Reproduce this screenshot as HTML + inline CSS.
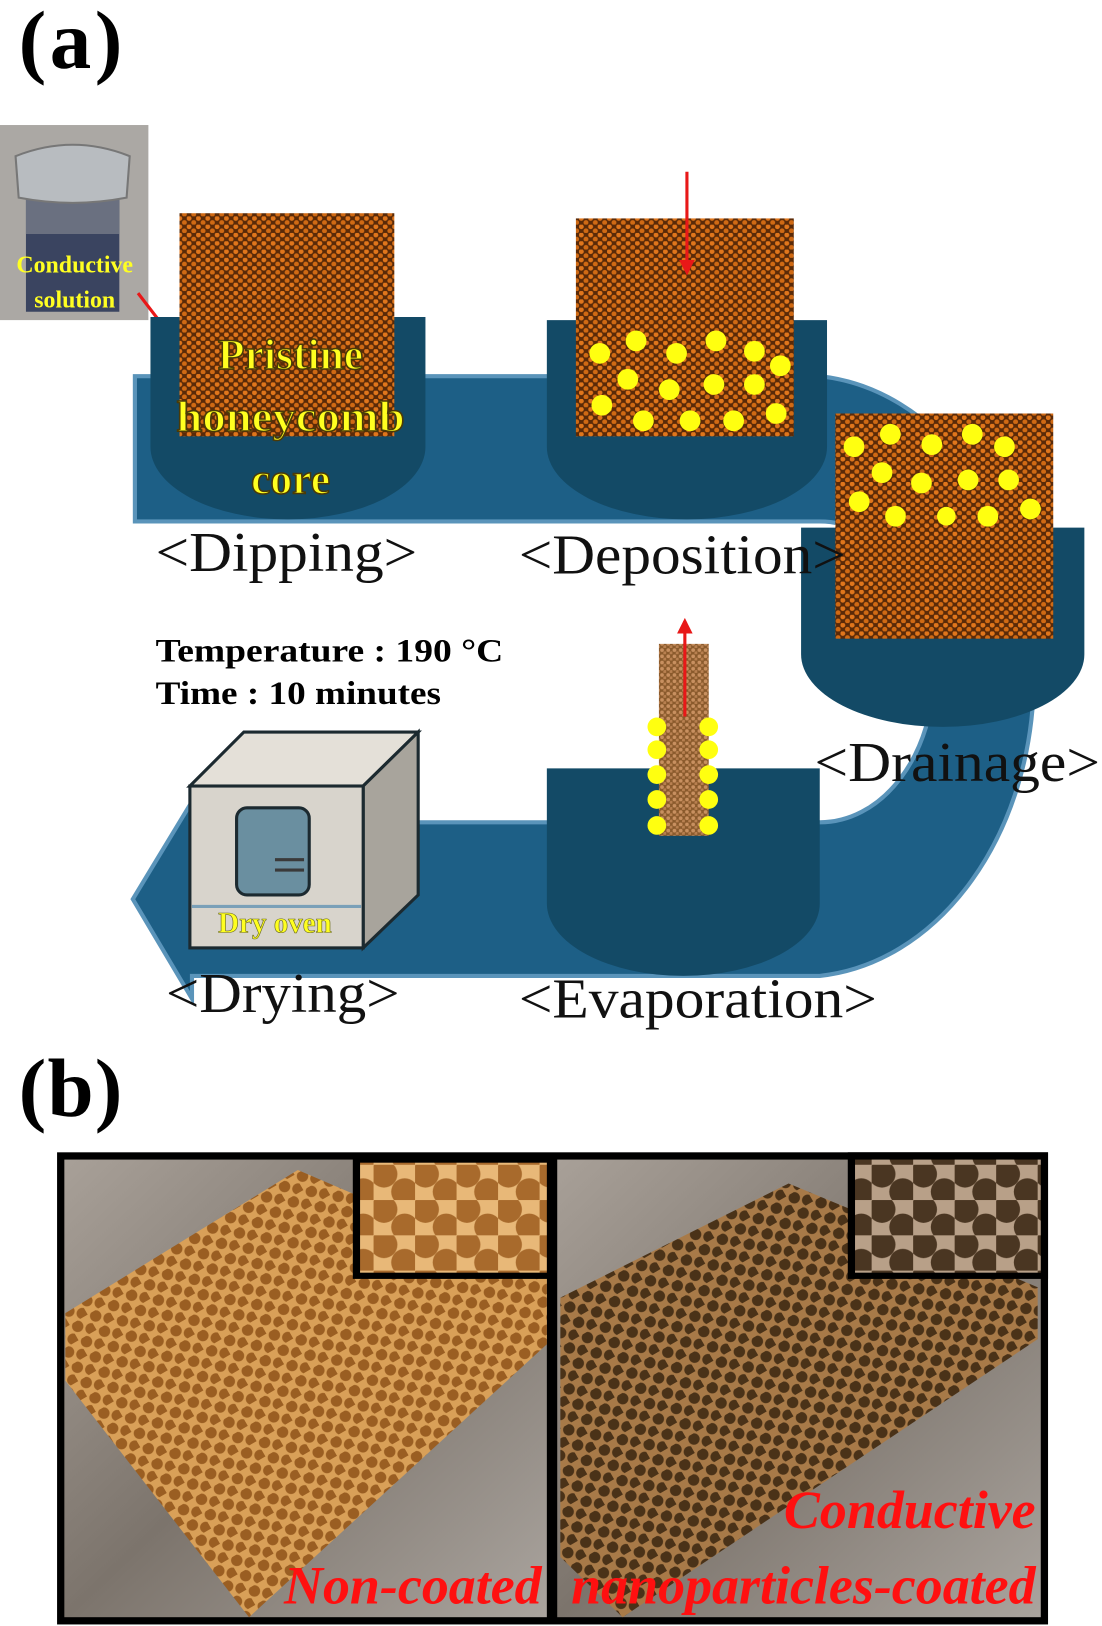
<!DOCTYPE html>
<html><head><meta charset="utf-8"><style>html,body{margin:0;padding:0;background:#fff}svg{display:block}</style></head>
<body>
<svg width="1102" height="1626" viewBox="0 0 1062 1566" xmlns="http://www.w3.org/2000/svg" font-family="Liberation Serif, serif">
<defs>
<pattern id="hc" width="9" height="8" patternUnits="userSpaceOnUse">
<rect width="9" height="8" fill="#5a2a08"/>
<circle cx="2.2" cy="2" r="2.4" fill="#e0761c"/><circle cx="6.7" cy="6" r="2.4" fill="#d06a14"/>
</pattern>
<pattern id="hc2" width="6" height="6" patternUnits="userSpaceOnUse">
<rect width="6" height="6" fill="#8a5a2c"/><circle cx="2" cy="2" r="1.8" fill="#c89060"/><circle cx="5" cy="5" r="1.8" fill="#b88050"/>
</pattern>
<pattern id="ph1" width="20" height="17" patternUnits="userSpaceOnUse" patternTransform="rotate(-30)">
<rect width="20" height="17" fill="#d9a058"/><circle cx="6" cy="5" r="5.5" fill="#9a5e22"/><circle cx="16" cy="13.5" r="5.5" fill="#9a5e22"/>
</pattern>
<pattern id="ph2" width="20" height="17" patternUnits="userSpaceOnUse" patternTransform="rotate(-30)">
<rect width="20" height="17" fill="#a87a48"/><circle cx="6" cy="5" r="5.5" fill="#4a3218"/><circle cx="16" cy="13.5" r="5.5" fill="#4a3218"/>
</pattern>
<pattern id="ins1" width="40" height="34" patternUnits="userSpaceOnUse">
<rect width="40" height="34" fill="#e8b878"/><circle cx="10" cy="9" r="13" fill="#a86a2c"/><circle cx="30" cy="26" r="13" fill="#a86a2c"/>
</pattern>
<pattern id="ins2" width="40" height="34" patternUnits="userSpaceOnUse">
<rect width="40" height="34" fill="#b8a088"/><circle cx="10" cy="9" r="13" fill="#4a3622"/><circle cx="30" cy="26" r="13" fill="#4a3622"/>
</pattern>
<linearGradient id="wood" x1="0" y1="0" x2="1" y2="1"><stop offset="0" stop-color="#a8a098"/><stop offset="0.5" stop-color="#7c746c"/><stop offset="1" stop-color="#aaa49e"/></linearGradient>
<marker id="ah" viewBox="0 0 10 10" refX="8" refY="5" markerWidth="5" markerHeight="5" orient="auto" markerUnits="strokeWidth"><path d="M0,0L10,5L0,10z" fill="#e81818"/></marker>
</defs>

<text x="18" y="65" font-size="80" font-weight="bold" textLength="100">(a)</text>

<path d="M130,362 H790 A225,290 0 0 1 790,940 H185 V962 L128,866 L185,772 V792 H790 A110,145 0 0 0 790,502 H130 Z" fill="#1d5f86" stroke="#5a94ba" stroke-width="4"/>

<rect x="0" y="120" width="143" height="188" fill="#aba8a4"/>
<path d="M25,185 H115 V300 H25 Z" fill="#3a4460"/>
<path d="M25,185 H115 V225 H25 Z" fill="#6a7080"/>
<path d="M15,150 Q70,128 125,150 L122,190 Q70,200 18,190 Z" fill="#b8bcc0" stroke="#777" stroke-width="2"/>
<text x="72" y="262" font-size="23" font-weight="bold" fill="#ffff22" text-anchor="middle">Conductive</text>
<text x="72" y="296" font-size="23" font-weight="bold" fill="#ffff22" text-anchor="middle">solution</text>
<line x1="133" y1="282" x2="166" y2="325" stroke="#e81818" stroke-width="3" marker-end="url(#ah)"/>

<path d="M145,305 H410 V430 A132.5,70 0 0 1 145,430 Z" fill="#134a66"/>
<path d="M527,308 H797 V430 A135,70 0 0 1 527,430 Z" fill="#134a66"/>
<path d="M772,508 H1045 V630 A136.5,70 0 0 1 772,630 Z" fill="#134a66"/>
<path d="M527,740 H790 V870 A131.5,70 0 0 1 527,870 Z" fill="#134a66"/>

<rect x="173" y="205" width="207" height="215" fill="url(#hc)"/>
<rect x="555" y="210" width="210" height="210" fill="url(#hc)"/>
<rect x="805" y="398" width="210" height="217" fill="url(#hc)"/>
<rect x="635" y="620" width="48" height="185" fill="url(#hc2)"/>

<g fill="#ffff10">
<circle cx="578" cy="340" r="10"/><circle cx="613" cy="328" r="10"/><circle cx="652" cy="340" r="10"/><circle cx="690" cy="328" r="10"/><circle cx="727" cy="338" r="10"/><circle cx="752" cy="352" r="10"/>
<circle cx="605" cy="365" r="10"/><circle cx="645" cy="375" r="10"/><circle cx="688" cy="370" r="10"/><circle cx="727" cy="370" r="10"/>
<circle cx="580" cy="390" r="10"/><circle cx="620" cy="405" r="10"/><circle cx="665" cy="405" r="10"/><circle cx="707" cy="405" r="10"/><circle cx="748" cy="398" r="10"/>
<circle cx="823" cy="430" r="10"/><circle cx="858" cy="418" r="10"/><circle cx="898" cy="428" r="10"/><circle cx="937" cy="418" r="10"/><circle cx="968" cy="430" r="10"/>
<circle cx="850" cy="455" r="10"/><circle cx="888" cy="465" r="10"/><circle cx="933" cy="462" r="10"/><circle cx="972" cy="462" r="10"/>
<circle cx="828" cy="483" r="10"/><circle cx="863" cy="497" r="10"/><circle cx="912" cy="497" r="9"/><circle cx="952" cy="497" r="10"/><circle cx="993" cy="490" r="10"/>
<circle cx="633" cy="700" r="9"/><circle cx="683" cy="700" r="9"/><circle cx="633" cy="722" r="9"/><circle cx="683" cy="722" r="9"/><circle cx="633" cy="746" r="9"/><circle cx="683" cy="746" r="9"/><circle cx="633" cy="770" r="9"/><circle cx="683" cy="770" r="9"/><circle cx="633" cy="795" r="9"/><circle cx="683" cy="795" r="9"/>
</g>

<line x1="662" y1="165" x2="662" y2="262" stroke="#e81818" stroke-width="3" marker-end="url(#ah)"/>
<line x1="660" y1="690" x2="660" y2="598" stroke="#e81818" stroke-width="3" marker-end="url(#ah)"/>

<g font-size="42" font-weight="bold" fill="#ffff20" text-anchor="middle" stroke="#4a3a08" stroke-width="1.5">
<text x="280" y="355">Pristine</text><text x="280" y="415" textLength="220" lengthAdjust="spacingAndGlyphs">honeycomb</text><text x="280" y="475">core</text></g>

<g font-size="54" fill="#111" lengthAdjust="spacingAndGlyphs">
<text x="150" y="550" textLength="252" lengthAdjust="spacingAndGlyphs">&lt;Dipping&gt;</text>
<text x="500" y="552" textLength="315" lengthAdjust="spacingAndGlyphs">&lt;Deposition&gt;</text>
<text x="785" y="752" textLength="275" lengthAdjust="spacingAndGlyphs">&lt;Drainage&gt;</text>
<text x="160" y="975" textLength="225" lengthAdjust="spacingAndGlyphs">&lt;Drying&gt;</text>
<text x="500" y="980" textLength="345" lengthAdjust="spacingAndGlyphs">&lt;Evaporation&gt;</text>
</g>
<text x="150" y="637" font-size="32" font-weight="bold" textLength="335" lengthAdjust="spacingAndGlyphs">Temperature : 190 °C</text>
<text x="150" y="678" font-size="32" font-weight="bold" textLength="275" lengthAdjust="spacingAndGlyphs">Time : 10 minutes</text>

<polygon points="183,757 235,705 403,705 350,757" fill="#e4e0d8" stroke="#1c2a30" stroke-width="3"/>
<polygon points="350,757 403,705 403,862 350,913" fill="#a8a49c" stroke="#1c2a30" stroke-width="3"/>
<rect x="183" y="757" width="167" height="156" fill="#d8d4cc" stroke="#1c2a30" stroke-width="3"/>
<rect x="228" y="778" width="70" height="84" rx="10" fill="#6a8fa0" stroke="#1c2a30" stroke-width="3"/>
<line x1="265" y1="828" x2="293" y2="828" stroke="#3a3a3a" stroke-width="3"/><line x1="265" y1="838" x2="293" y2="838" stroke="#3a3a3a" stroke-width="3"/>
<line x1="185" y1="873" x2="348" y2="873" stroke="#7aa0b8" stroke-width="3"/>
<text x="265" y="898" font-size="28" font-weight="bold" fill="#ffff20" text-anchor="middle" stroke="#6a6a20" stroke-width="0.6">Dry oven</text>

<text x="18" y="1075" font-size="80" font-weight="bold" textLength="100">(b)</text>

<rect x="55" y="1110" width="955" height="455" fill="#000"/>
<rect x="62" y="1117" width="465" height="441" fill="url(#wood)"/>
<rect x="537" y="1117" width="466" height="441" fill="url(#wood)"/>
<polygon points="287,1127 63,1265 63,1330 240,1558 527,1295 527,1230" fill="url(#ph1)"/>
<polygon points="760,1140 540,1250 540,1500 600,1558 1000,1290 1000,1240" fill="url(#ph2)"/>
<rect x="340" y="1114" width="190" height="118" fill="#000"/>
<rect x="347" y="1120" width="180" height="106" fill="url(#ins1)"/>
<rect x="817" y="1110" width="193" height="122" fill="#000"/>
<rect x="824" y="1117" width="179" height="109" fill="url(#ins2)"/>
<g font-size="52" font-weight="bold" font-style="italic" fill="#ff1010" text-anchor="end">
<text x="522" y="1545">Non-coated</text>
<text x="998" y="1472">Conductive</text>
<text x="998" y="1545">nanoparticles-coated</text>
</g>
</svg>
</body></html>
